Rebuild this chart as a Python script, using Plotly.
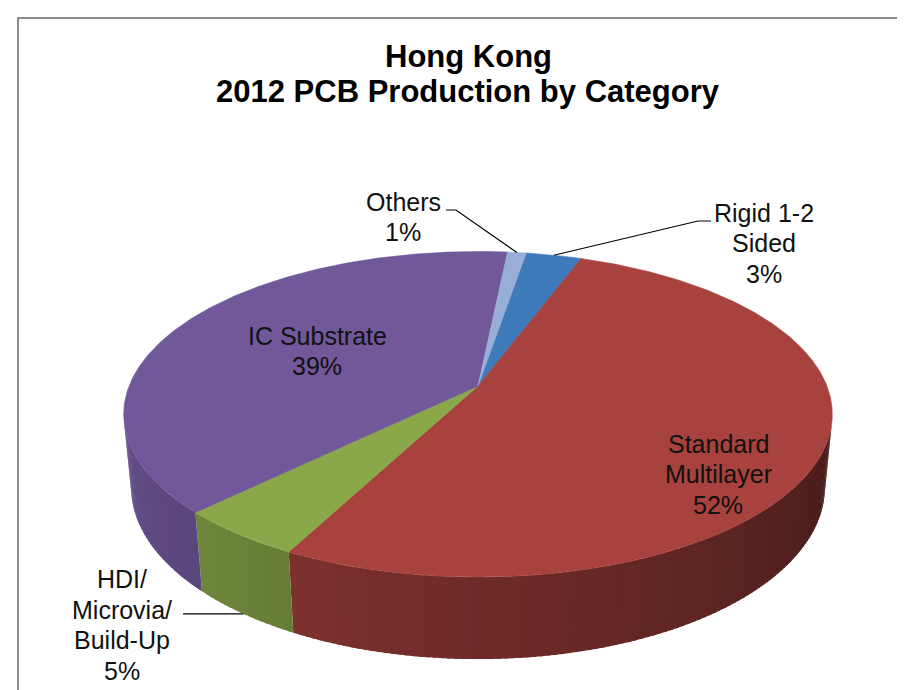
import numpy as np
import plotly.graph_objects as go

# data
categories = ["Rigid 1-2 Sided", "Standard Multilayer", "HDI/Microvia/Build-Up", "IC Substrate", "Others"]
shares = [3, 52, 5, 39, 1]
label_lines = [["Rigid 1-2", "Sided"], ["Standard", "Multilayer"], ["HDI/", "Microvia/", "Build-Up"],
               ["IC Substrate"], ["Others"]]
title_lines = ["Hong Kong", "2012 PCB Production by Category"]

# style / layout
top_colors = [(63, 123, 186), (168, 66, 62), (138, 168, 74), (112, 88, 154), (152, 174, 216)]
label_pos = [(756, 235), (710, 466), (114, 617), (309, 343), (395, 209)]
FIRST_ANGLE = 9.3           # deg clockwise from 12 o'clock
CX, CY = 470.0, 378.0       # projected pie centre (px)
F, DIST, PHI, DEPTH = 1790.0, 5.13, np.radians(26.9), 0.236
LABEL_SIZE, LINE_GAP = 25, 30.5
FONT = "Liberation Sans, Arial, sans-serif"

S, C = np.sin(PHI), np.cos(PHI)


def proj(t, r=1.0, z=0.0):
    # perspective projection of a point on the (unit) pie, t in radians ccw from +x
    X, Y = r * np.cos(t), r * np.sin(t)
    depth = DIST + Y * C - z * S
    up = Y * S + z * C
    return CX + F * X / depth, CY - F * up / depth


def shade(rgb, tdeg):
    k = 0.88 - (tdeg % 360 - 200) * 0.0031
    k = min(0.92, max(0.38, k))
    return "rgb(%d,%d,%d)" % tuple(int(c * k) for c in rgb)


def rgb(c):
    return "rgb(%d,%d,%d)" % c


total = float(sum(shares))
bounds = [FIRST_ANGLE]
for v in shares:
    bounds.append(bounds[-1] + v / total * 360.0)

# visible part of side wall: sin t < -1/(D cos phi)
lim = np.degrees(np.arcsin(1.0 / (DIST * C)))
vis_lo, vis_hi = 180.0 + lim, 360.0 - lim   # in ccw degrees

traces = []
# side walls, drawn as thin overlapping strips so the shading looks continuous
for i, v in enumerate(shares):
    a0, a1 = bounds[i], bounds[i + 1]
    t_hi, t_lo = 90 - a0, 90 - a1
    for off in (0, 360, 720, -360):
        lo, hi = max(t_lo + off, vis_lo), min(t_hi + off, vis_hi)
        if hi <= lo:
            continue
        n = max(2, int(np.ceil(hi - lo)))
        edges = np.linspace(lo, hi, n + 1)
        for k, (e0, e1) in enumerate(zip(edges[:-1], edges[1:])):
            e1x = min(e1 + 0.6, hi) if k < n - 1 else e1
            ts = np.radians(np.linspace(e0, e1x, 3))
            xt, yt = proj(ts)
            xb, yb = proj(ts[::-1], z=-DEPTH)
            col = shade(top_colors[i], (e0 + e1) / 2)
            traces.append(go.Scatter(
                x=list(xt) + list(xb) + [xt[0]], y=list(yt) + list(yb) + [yt[0]],
                mode="lines", fill="toself", fillcolor=col,
                line=dict(color=col, width=0), hoverinfo="skip", showlegend=False))

# top faces
for i, v in enumerate(shares):
    a0, a1 = bounds[i], bounds[i + 1]
    ang = np.radians(90 - np.linspace(a0, a1, max(3, int((a1 - a0) * 2))))
    xa, ya = proj(ang)
    xs = [CX] + list(xa) + [CX]
    ys = [CY] + list(ya) + [CY]
    traces.append(go.Scatter(
        x=xs, y=ys, mode="lines", fill="toself", fillcolor=rgb(top_colors[i]),
        line=dict(color=rgb(top_colors[i]), width=0.6), hoverinfo="skip",
        showlegend=False, name=categories[i]))

# leader lines for outside labels
mid = [(bounds[i] + bounds[i + 1]) / 2 for i in range(len(shares))]
ox, oy = proj(np.radians(90 - mid[4]))
rx_, ry_ = proj(np.radians(90 - mid[0]))
hx, hy = proj(np.radians(90 - mid[2]), z=-DEPTH)
leaders = [
    ([438, 448, ox], [202, 202, oy]),
    ([703, 690, rx_], [213, 213, ry_]),
    ([175, hx], [hy, hy]),
]
for lx, ly in leaders:
    traces.append(go.Scatter(x=lx, y=ly, mode="lines", line=dict(color="black", width=1.2),
                             hoverinfo="skip", showlegend=False))

annotations = []
for i, v in enumerate(shares):
    lines = label_lines[i] + ["%d%%" % v]
    x0, y0 = label_pos[i]
    n = len(lines)
    for j, txt in enumerate(lines):
        annotations.append(dict(
            x=x0, y=y0 + (j - (n - 1) / 2) * LINE_GAP, xref="x", yref="y", text=txt,
            showarrow=False, font=dict(family=FONT, size=LABEL_SIZE, color="#111111"),
            xanchor="center", yanchor="middle"))

for j, txt in enumerate(title_lines):
    annotations.append(dict(
        x=460, y=48 + j * 35, xref="x", yref="y", text="<b>%s</b>" % txt, showarrow=False,
        font=dict(family=FONT, size=31, color="black"), xanchor="center", yanchor="middle"))

fig = go.Figure(data=traces)
fig.update_layout(
    width=905, height=690, margin=dict(l=0, r=0, t=0, b=0),
    paper_bgcolor="white", plot_bgcolor="white", showlegend=False,
    xaxis=dict(range=[0, 905], visible=False, fixedrange=True),
    yaxis=dict(range=[690, 0], visible=False, fixedrange=True),
    annotations=annotations,
    shapes=[dict(type="rect", xref="x", yref="y", x0=10, y0=10, x1=897, y1=700,
                 line=dict(color="#8c8c8c", width=2))],
)
fig.write_html("out.html")
